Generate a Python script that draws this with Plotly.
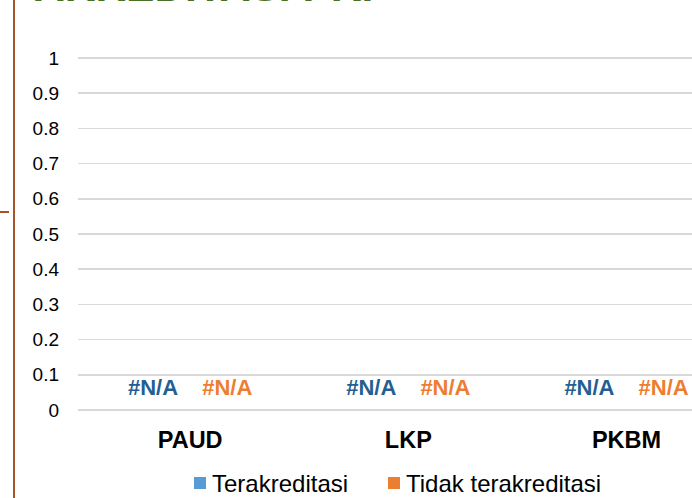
import plotly.graph_objects as go

categories = ["PAUD", "LKP", "PKBM"]
series_names = ["Terakreditasi", "Tidak terakreditasi"]
series_labels = [["#N/A", "#N/A", "#N/A"], ["#N/A", "#N/A", "#N/A"]]
label_height = [0.058, 0.058]
legend_colors = ["#5B9BD5", "#ED7D31"]
label_colors = ["#255E91", "#ED7D31"]
y_ticks = [0, 0.1, 0.2, 0.3, 0.4, 0.5, 0.6, 0.7, 0.8, 0.9, 1]
y_ticktext = ["0", "0.1", "0.2", "0.3", "0.4", "0.5", "0.6", "0.7", "0.8", "0.9", "1"]
title_text = "AKREDITASI PKF"

FONT = "Liberation Sans, Arial, sans-serif"
W, H = 692, 498
L, R, T, B = 78, 0, 51, 88
PW = W - L - R
PH = H - T - B

def px_x(p):
    return (p - L) / PW

def px_y(p):
    return (H - B - p) / PH

fig = go.Figure()
offsets = [-0.17, 0.17]
for s in range(2):
    xs = [i + offsets[s] for i in range(len(categories))]
    fig.add_trace(go.Scatter(
        x=xs, y=[label_height[s]] * len(categories),
        mode="text", text=series_labels[s], name=series_names[s],
        textfont=dict(family=FONT, size=22, color=label_colors[s], weight="bold"),
        showlegend=False, hoverinfo="skip", cliponaxis=False))

# custom legend (squares + names)
legend_marker_x = [194, 388]
legend_y = 483
shapes = []
annotations = []
for s in range(2):
    mx = legend_marker_x[s]
    shapes.append(dict(type="rect", xref="paper", yref="paper",
                       x0=px_x(mx), x1=px_x(mx + 12),
                       y0=px_y(legend_y + 6), y1=px_y(legend_y - 6),
                       fillcolor=legend_colors[s], line=dict(width=0)))
    annotations.append(dict(text=series_names[s], xref="paper", yref="paper",
                            x=px_x(mx + 16), y=px_y(legend_y), xanchor="left",
                            yanchor="middle", showarrow=False,
                            font=dict(family=FONT, size=24, color="#000000")))

annotations.append(dict(text=title_text, xref="paper", yref="paper",
                        x=px_x(32), y=px_y(-14), xanchor="left", yanchor="middle",
                        showarrow=False,
                        font=dict(family=FONT, size=42.5, color="#4A7023", weight="bold")))

shapes += [
    dict(type="line", xref="paper", yref="paper",
         x0=px_x(14), x1=px_x(14), y0=px_y(0), y1=px_y(H),
         line=dict(color="#A5552A", width=2)),
    dict(type="line", xref="paper", yref="paper",
         x0=px_x(0), x1=px_x(9), y0=px_y(212), y1=px_y(212),
         line=dict(color="#A5552A", width=2)),
]

fig.update_layout(
    width=W, height=H,
    margin=dict(l=L, r=R, t=T, b=B, autoexpand=False),
    paper_bgcolor="white", plot_bgcolor="white",
    font=dict(family=FONT, size=19, color="#000000"),
    xaxis=dict(range=[-0.514, 2.30], tickvals=list(range(len(categories))),
               ticktext=categories, showgrid=False, zeroline=False,
               showline=False, ticks="", ticklabelstandoff=13, automargin=False,
               tickfont=dict(family=FONT, size=23.5, color="#000000", weight="bold"),
               fixedrange=True),
    yaxis=dict(range=[0, 1.02], tickvals=y_ticks, ticktext=y_ticktext,
               showgrid=True, gridcolor="#D9D9D9", gridwidth=1.5,
               zeroline=True, zerolinecolor="#D9D9D9", zerolinewidth=1.5,
               showline=False, ticks="", ticklabelstandoff=18, automargin=False,
               tickfont=dict(family=FONT, size=19, color="#000000"),
               fixedrange=True),
    showlegend=False,
    annotations=annotations,
    shapes=shapes,
)

fig.write_html("out.html",
               config={"displayModeBar": False, "staticPlot": True},
               post_script="document.body.style.margin='0px';document.body.style.overflow='hidden';")
